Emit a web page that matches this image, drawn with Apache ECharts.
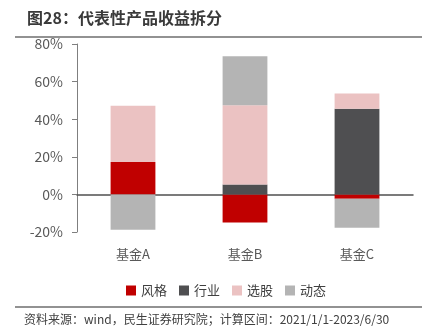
<!DOCTYPE html>
<html><head><meta charset="utf-8">
<script src="https://cdn.jsdelivr.net/npm/echarts@6/dist/echarts.min.js"></script>
<style>html,body{margin:0;padding:0;background:#fff}#c{width:430px;height:334px}</style>
</head><body><div id="c"></div>
<script>
const categories = ['基金A', '基金B', '基金C'];
const styleVals = [17.2, -14.9, -2.3];
const industryVals = [0, 5.3, 45.5];
const pickVals = [29.9, 42.1, 8.2];
const dynamicVals = [-18.8, 26.1, -15.5];
const yTicks = [-20, 0, 20, 40, 60, 80];

const FONT = '"Noto Sans CJK SC", "Noto Sans", sans-serif';
const chart = echarts.init(document.getElementById('c'), null, {renderer: 'canvas'});
const mk = (name, data, color) => ({
  name, type: 'bar', stack: 'total', data, barWidth: '40%',
  itemStyle: {color}, emphasis: {disabled: true}
});
chart.setOption({
  animation: false,
  textStyle: {fontFamily: FONT},
  title: {
    text: '图28：代表性产品收益拆分', left: 22, top: 5,
    textStyle: {fontSize: 16, fontWeight: 'bold', color: '#3a3a3a', fontFamily: FONT}
  },
  graphic: [
    {type: 'line', shape: {x1: 15, y1: 37, x2: 422, y2: 37}, style: {stroke: '#6e6e6e', lineWidth: 1.5}},
    {type: 'line', shape: {x1: 15, y1: 307, x2: 422, y2: 307}, style: {stroke: '#6e6e6e', lineWidth: 1.5}},
    {type: 'text', left: 24, top: 313, style: {text: '资料来源：wind，民生证券研究院；计算区间：2021/1/1-2023/6/30', fontSize: 12, fill: '#404040', fontFamily: FONT}}
  ],
  legend: {
    left: 121, top: 279, itemWidth: 10, itemHeight: 10, itemGap: 12,
    icon: 'rect',
    textStyle: {fontSize: 13, color: '#404040', fontFamily: FONT},
    data: ['风格', '行业', '选股', '动态']
  },
  grid: {left: 77, right: 17, top: 44, bottom: 102},
  xAxis: {
    type: 'category', data: categories,
    axisLine: {onZero: true, lineStyle: {color: '#505050', width: 1.5}},
    axisTick: {show: false},
    axisLabel: {fontSize: 13, color: '#595959', margin: 16, fontFamily: FONT}
  },
  yAxis: {
    type: 'value', min: yTicks[0], max: yTicks[yTicks.length - 1], interval: 20,
    axisLine: {show: true, lineStyle: {color: '#7f7f7f'}},
    axisTick: {show: true, length: 5, lineStyle: {color: '#7f7f7f'}},
    splitLine: {show: false},
    axisLabel: {formatter: '{value}%', fontSize: 14, color: '#595959', margin: 14, fontFamily: FONT}
  },
  series: [
    mk('风格', styleVals, '#C00000'),
    mk('行业', industryVals, '#4F4F51'),
    mk('选股', pickVals, '#EBC2C2'),
    mk('动态', dynamicVals, '#B4B4B4')
  ]
});
</script></body></html>
